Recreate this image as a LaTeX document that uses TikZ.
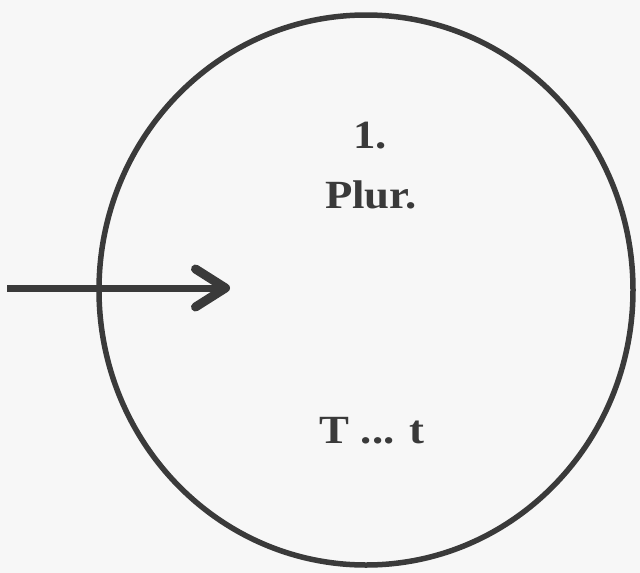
\documentclass[tikz,border=0pt]{standalone}
\usepackage{fontspec}
\setmainfont{Liberation Serif}
\usetikzlibrary{shapes.geometric,arrows.meta}
\definecolor{ink}{HTML}{3A3A3A}
\definecolor{paper}{HTML}{F7F7F7}
\tikzset{
  ring/.style={ellipse, draw=ink, line width=5.5pt, minimum width=534pt, minimum height=550pt, inner sep=0pt},
  lbl/.style={text=ink, font=\bfseries\fontsize{40}{46}\selectfont, inner sep=0pt, xscale=1.12},
  pointer/.style={draw=ink, line width=7pt, -{Straight Barb[length=30pt, width=38pt, line width=9pt, round]}}
}
\begin{document}
\begin{tikzpicture}[x=1pt,y=-1pt]
  \fill[paper] (0,0) rectangle (640,573);
  \useasboundingbox (0,0) rectangle (640,573);
  \node[ring] (circ) at (366,290) {};
  \node[lbl, anchor=base] (num) at (370,148) {1.};
  \node[lbl, anchor=base] (plur) at (371,208) {Plur.};
  \node[lbl, anchor=base] (tt) at (372,443) {T ... t};
  \coordinate (start) at (7,288);
  \coordinate (tip) at (230,288);
  \draw[pointer] (start) -- (tip);
\end{tikzpicture}
\end{document}
